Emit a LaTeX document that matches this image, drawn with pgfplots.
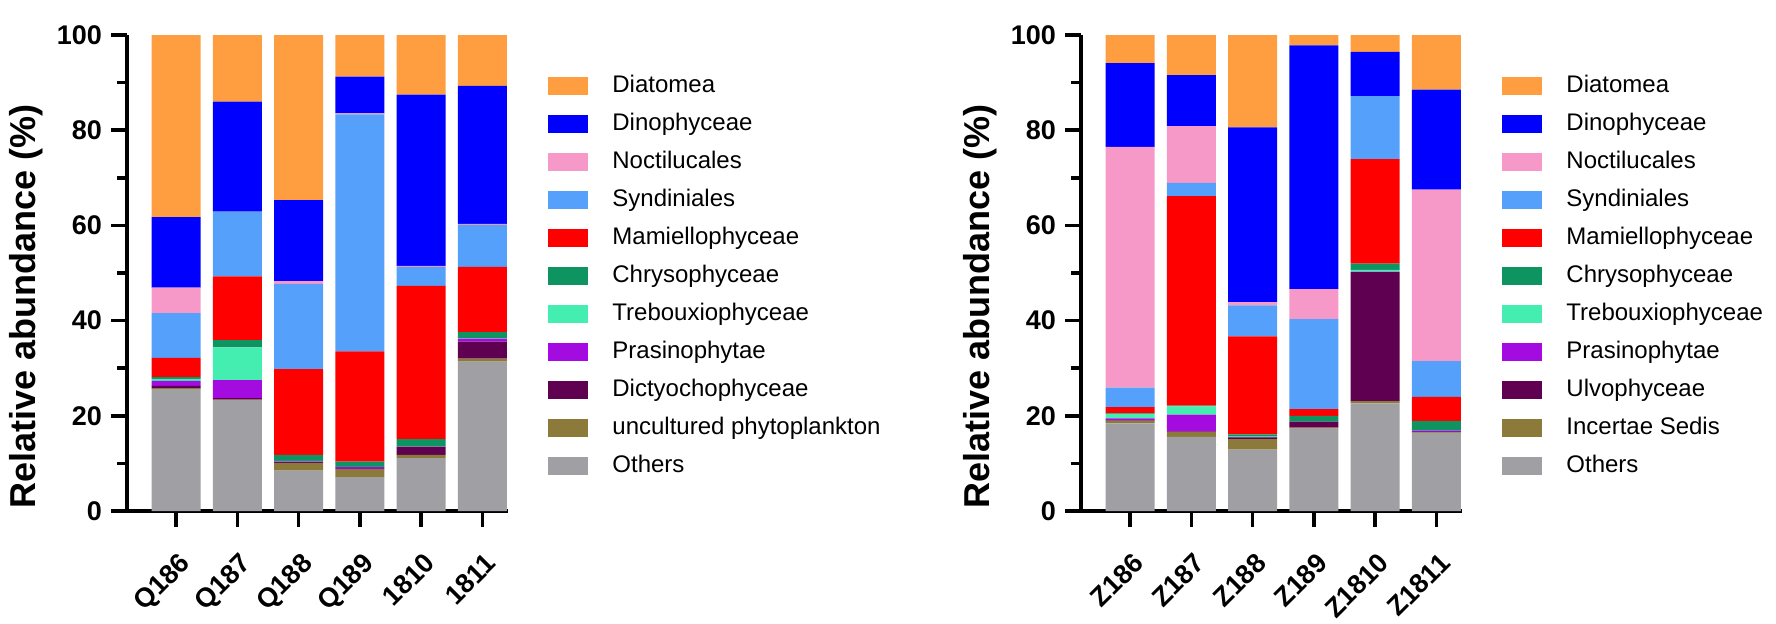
\documentclass[border=0pt]{standalone}
\usepackage{fontspec}
\setmainfont{Liberation Sans}
\usepackage{pgfplots}
\usepackage{pgfplotstable}
\pgfplotsset{compat=1.18}

\definecolor{cDia}{RGB}{255,158,64}
\definecolor{cDin}{RGB}{0,0,255}
\definecolor{cNoc}{RGB}{247,153,200}
\definecolor{cSyn}{RGB}{85,160,250}
\definecolor{cMam}{RGB}{255,0,0}
\definecolor{cChr}{RGB}{14,148,97}
\definecolor{cTre}{RGB}{68,238,176}
\definecolor{cPra}{RGB}{163,11,224}
\definecolor{cDic}{RGB}{96,0,80}
\definecolor{cUnc}{RGB}{140,122,58}
\definecolor{cOth}{RGB}{160,160,164}

% columns: Others, uncultured/Incertae, Dictyo/Ulvo, Prasino, Trebouxio, Chryso, Mamiello, Syndiniales, Noctilucales, Dinophyceae, Diatomea
\pgfplotstableread{
x Oth Unc Dic Pra Tre Chr Mam Syn Noc Din Dia
0 25.6 0.2 0.5 1.05 0.4 0.4 4.0 9.4 5.4 14.8 38.25
1 23.3 0.1 0.3 3.8 6.9 1.5 13.4 13.6 0.0 23.1 14.0
2 8.5 1.6 0.15 0.2 0.1 1.25 18.0 17.9 0.6 17.0 34.7
3 7.1 1.7 0.05 0.35 0.05 1.1 23.2 49.8 0.2 7.7 8.75
4 11.1 0.7 1.7 0.05 0.05 1.5 32.2 4.0 0.2 36.0 12.5
5 31.4 0.6 3.6 0.6 0.05 1.35 13.7 8.8 0.2 29.0 10.7
}\tableA

\pgfplotstableread{
x Oth Unc Dic Pra Tre Chr Mam Syn Noc Din Dia
0 18.4 0.6 0.1 0.35 0.9 0.15 1.3 4.1 50.6 17.6 5.9
1 15.6 1.05 0.1 3.5 1.75 0.15 44.0 2.8 11.9 10.7 8.45
2 12.9 2.2 0.35 0.1 0.2 0.35 20.6 6.5 0.7 36.7 19.4
3 17.3 0.2 1.3 0.0 0.0 1.2 1.4 18.9 6.3 51.2 2.2
4 22.6 0.5 27.1 0.1 0.35 1.3 22.0 13.2 0.0 9.3 3.55
5 16.4 0.1 0.1 0.3 0.0 2.0 5.1 7.5 36.0 21.0 11.5
}\tableB

\pgfplotsset{
  panel/.style={
    scale only axis, width=190.5pt, height=238pt,
    ybar stacked, bar width=0.8,
    xmin=-0.80, xmax=5.42, ymin=0, ymax=100,
    axis x line*=bottom, axis y line*=left,
    axis line style={line width=2pt, black},
    every tick/.style={black, line width=1.75pt},
    tick align=outside,
    major tick length=8pt, minor tick length=5pt,
    ytick={0,20,...,100}, minor ytick={10,30,...,90},
    xtick={0,...,5},
    /pgf/number format/assume math mode=true,
    yticklabel style={font=\fontsize{13.5}{16}\selectfont\bfseries, xshift=-1pt},
    xticklabel style={anchor=north east, inner sep=0pt,
      font=\fontsize{13.5}{16}\selectfont\bfseries, xshift=1pt, yshift=-12pt, rotate=45},
    ylabel={Relative abundance (\%)},
    ylabel style={font=\fontsize{18}{20}\selectfont\bfseries,
      at={(axis description cs:-0.265,0.43)}, anchor=center},
    legend style={at={(axis description cs:1.105,0.917)}, anchor=north west,
      draw=none, fill=none, inner sep=0pt, row sep=8pt, column sep=12pt,
      font=\fontsize{12}{14}\selectfont,
      nodes={inner sep=0pt, text height=8.6pt, text depth=2.4pt}},
    legend cell align=left,
    reverse legend,
    every axis plot post/.append style={draw=none,
      legend image code/.code={\fill[##1] (0pt,-4.5pt) rectangle (20pt,4.5pt);}},
  }
}

\begin{document}
\begin{tikzpicture}
\useasboundingbox (0,0) rectangle (888pt,311.5pt);
\begin{axis}[panel, at={(63.5pt,56pt)}, anchor=south west,
  xticklabels={Q186,Q187,Q188,Q189,1810,1811}]
\addplot[fill=cOth] table[x=x,y=Oth]{\tableA}; \addlegendentry{Others}
\addplot[fill=cUnc] table[x=x,y=Unc]{\tableA}; \addlegendentry{uncultured phytoplankton}
\addplot[fill=cDic] table[x=x,y=Dic]{\tableA}; \addlegendentry{Dictyochophyceae}
\addplot[fill=cPra] table[x=x,y=Pra]{\tableA}; \addlegendentry{Prasinophytae}
\addplot[fill=cTre] table[x=x,y=Tre]{\tableA}; \addlegendentry{Trebouxiophyceae}
\addplot[fill=cChr] table[x=x,y=Chr]{\tableA}; \addlegendentry{Chrysophyceae}
\addplot[fill=cMam] table[x=x,y=Mam]{\tableA}; \addlegendentry{Mamiellophyceae}
\addplot[fill=cSyn] table[x=x,y=Syn]{\tableA}; \addlegendentry{Syndiniales}
\addplot[fill=cNoc] table[x=x,y=Noc]{\tableA}; \addlegendentry{Noctilucales}
\addplot[fill=cDin] table[x=x,y=Din]{\tableA}; \addlegendentry{Dinophyceae}
\addplot[fill=cDia] table[x=x,y=Dia]{\tableA}; \addlegendentry{Diatomea}
\node[anchor=north west, inner sep=0pt, font=\fontsize{19}{20}\selectfont\bfseries]
  at (axis description cs:-0.328,1.0735) {A};
\end{axis}

\begin{axis}[panel, at={(540.5pt,56pt)}, anchor=south west,
  xticklabels={Z186,Z187,Z188,Z189,Z1810,Z1811}]
\addplot[fill=cOth] table[x=x,y=Oth]{\tableB}; \addlegendentry{Others}
\addplot[fill=cUnc] table[x=x,y=Unc]{\tableB}; \addlegendentry{Incertae Sedis}
\addplot[fill=cDic] table[x=x,y=Dic]{\tableB}; \addlegendentry{Ulvophyceae}
\addplot[fill=cPra] table[x=x,y=Pra]{\tableB}; \addlegendentry{Prasinophytae}
\addplot[fill=cTre] table[x=x,y=Tre]{\tableB}; \addlegendentry{Trebouxiophyceae}
\addplot[fill=cChr] table[x=x,y=Chr]{\tableB}; \addlegendentry{Chrysophyceae}
\addplot[fill=cMam] table[x=x,y=Mam]{\tableB}; \addlegendentry{Mamiellophyceae}
\addplot[fill=cSyn] table[x=x,y=Syn]{\tableB}; \addlegendentry{Syndiniales}
\addplot[fill=cNoc] table[x=x,y=Noc]{\tableB}; \addlegendentry{Noctilucales}
\addplot[fill=cDin] table[x=x,y=Din]{\tableB}; \addlegendentry{Dinophyceae}
\addplot[fill=cDia] table[x=x,y=Dia]{\tableB}; \addlegendentry{Diatomea}
\node[anchor=north west, inner sep=0pt, font=\fontsize{19}{20}\selectfont\bfseries]
  at (axis description cs:-0.31,1.064) {B};
\end{axis}
\end{tikzpicture}
\end{document}
